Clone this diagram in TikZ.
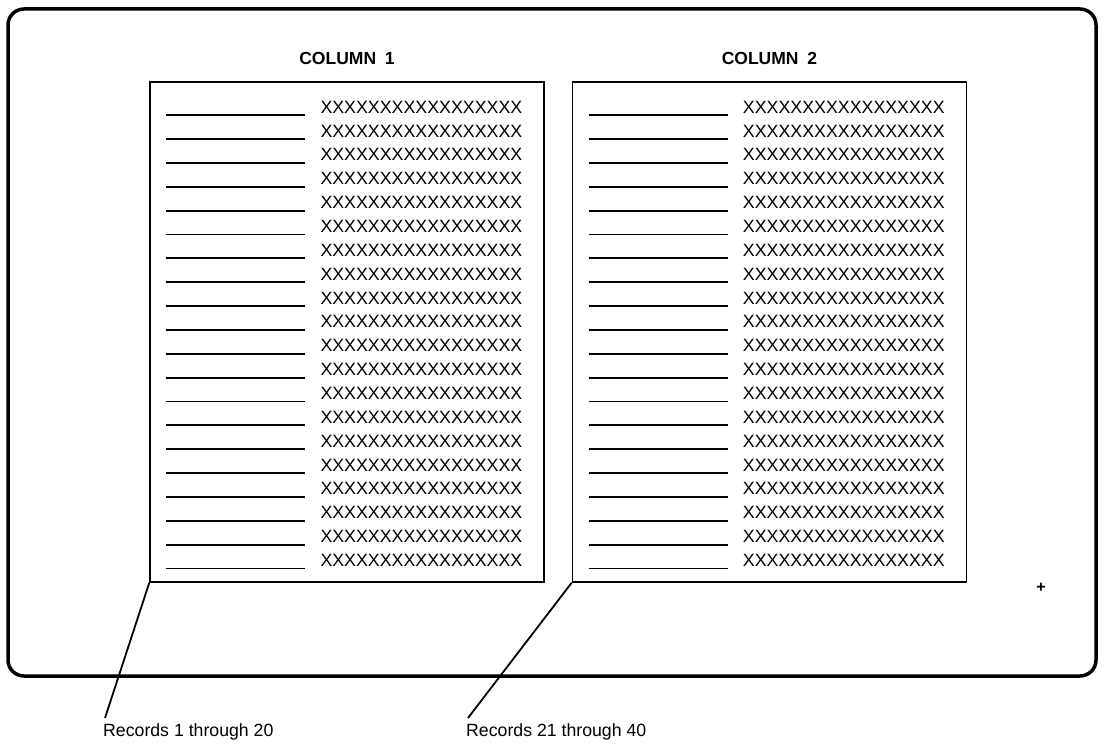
\documentclass[tikz,border=0pt]{standalone}
\usepackage{fontspec}
\setmainfont{Liberation Sans}
\usetikzlibrary{positioning,calc}
\tikzset{
    % Frame and boxes
    screen/.style={
        draw,
        line width=3.5pt,
        rounded corners=16pt
    },
    column box/.style={
        rectangle,
        draw,
        line width=1.4pt,
        minimum width=394pt,
        minimum height=500pt,
        inner sep=0pt
    },
    column title/.style={
        font=\fontsize{17.5}{19}\selectfont\bfseries,
        inner sep=0pt
    },
    blank/.style={
        line width=1.8pt
    },
    entry/.style={
        anchor=base west,
        inner sep=0pt,
        font=\fontsize{17.8}{19}\selectfont
    },
    pointer/.style={
        line width=1.8pt
    },
    record label/.style={
        anchor=base west,
        inner sep=0pt,
        font=\fontsize{17.7}{20}\selectfont
    }
}

\begin{document}
\begin{tikzpicture}[x=1pt, y=-1pt]
        \useasboundingbox (0,0) rectangle (1104,746);
        % Screen frame
        \draw[screen] (8,9) rectangle (1096,676);

        % Columns
        \node[column box] (col1) at (347,332) {};
        \node[column box, right=27pt of col1] (col2) {};
        \node[column title, above=16pt of col1] (title1) {COLUMN\enspace 1};
        \node[column title, above=16pt of col2] (title2) {COLUMN\enspace 2};

        % Rows
        \foreach \c in {1,2} {
            \foreach \r in {0,...,19} {
                \draw[blank] ($(col\c.north west)+(17,34+23.85*\r)$) -- ++(139,0);
                \node[entry] (x\c-\r) at ($(col\c.north west)+(171,32+23.85*\r)$) {XXXXXXXXXXXXXXXXX};
            }
        }

        % Labels
        \node[record label] (rec1) at (103,736) {Records 1 through 20};
        \node[record label] (rec2) at (466,736) {Records 21 through 40};
        \node[font=\fontsize{16}{16}\selectfont\bfseries, inner sep=0pt] (cursor) at (1041,588) {+};

        % Pointers
        \draw[pointer] (col1.south west) -- ([shift={(2,-5)}]rec1.north west);
        \draw[pointer] (col2.south west) -- ([shift={(2,-5)}]rec2.north west);
    \end{tikzpicture}
\end{document}
